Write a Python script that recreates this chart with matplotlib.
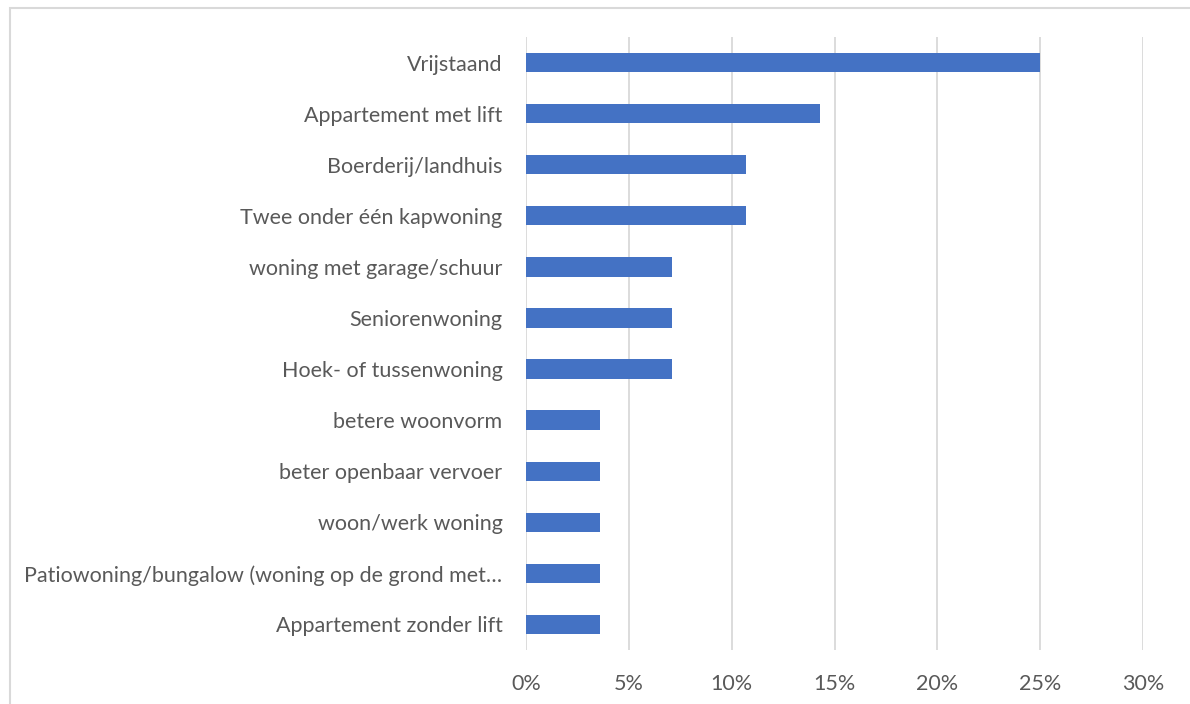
import matplotlib
matplotlib.use("Agg")
import matplotlib.pyplot as plt
from matplotlib.patches import Rectangle
from matplotlib.ticker import FuncFormatter, MultipleLocator

categories = [
    "Vrijstaand",
    "Appartement met lift",
    "Boerderij/landhuis",
    "Twee onder één kapwoning",
    "woning met garage/schuur",
    "Seniorenwoning",
    "Hoek- of tussenwoning",
    "betere woonvorm",
    "beter openbaar vervoer",
    "woon/werk woning",
    "Patiowoning/bungalow (woning op de grond met…",
    "Appartement zonder lift",
]
values = [25.0, 14.3, 10.7, 10.7, 7.1, 7.1, 7.1, 3.6, 3.6, 3.6, 3.6, 3.6]

W, H = 1190, 704
fig = plt.figure(figsize=(W / 100, H / 100), dpi=100)
plt.rcParams['font.family'] = ['Lato', 'DejaVu Sans']

ax = fig.add_axes([526 / W, 1 - 650 / H, (1143 - 526) / W, (650 - 37) / H])
y = list(range(len(categories)))
ax.barh(y, values, height=0.38, color="#4472C4", zorder=3)
ax.set_yticks(y)
ax.set_yticklabels(categories)
ax.set_ylim(len(categories) - 0.5, -0.5)
ax.set_xlim(0, 30)
ax.xaxis.set_major_locator(MultipleLocator(5))
ax.xaxis.set_major_formatter(FuncFormatter(lambda v, p: f"{v:.0f}%"))
ax.grid(axis="x", color="#d9d9d9", linewidth=1.3, zorder=0)
for s in ax.spines.values():
    s.set_visible(False)
ax.tick_params(axis="both", length=0, colors="#595959", labelsize=15.5)
ax.tick_params(axis="y", pad=17)
ax.tick_params(axis="x", pad=17)

fig.patches.append(Rectangle((10 / W, -0.01), 1.1, 1 - 8 / H + 0.01,
                             transform=fig.transFigure, fill=False,
                             edgecolor="#d9d9d9", linewidth=1.5))

fig.savefig("out.png", dpi=100)
